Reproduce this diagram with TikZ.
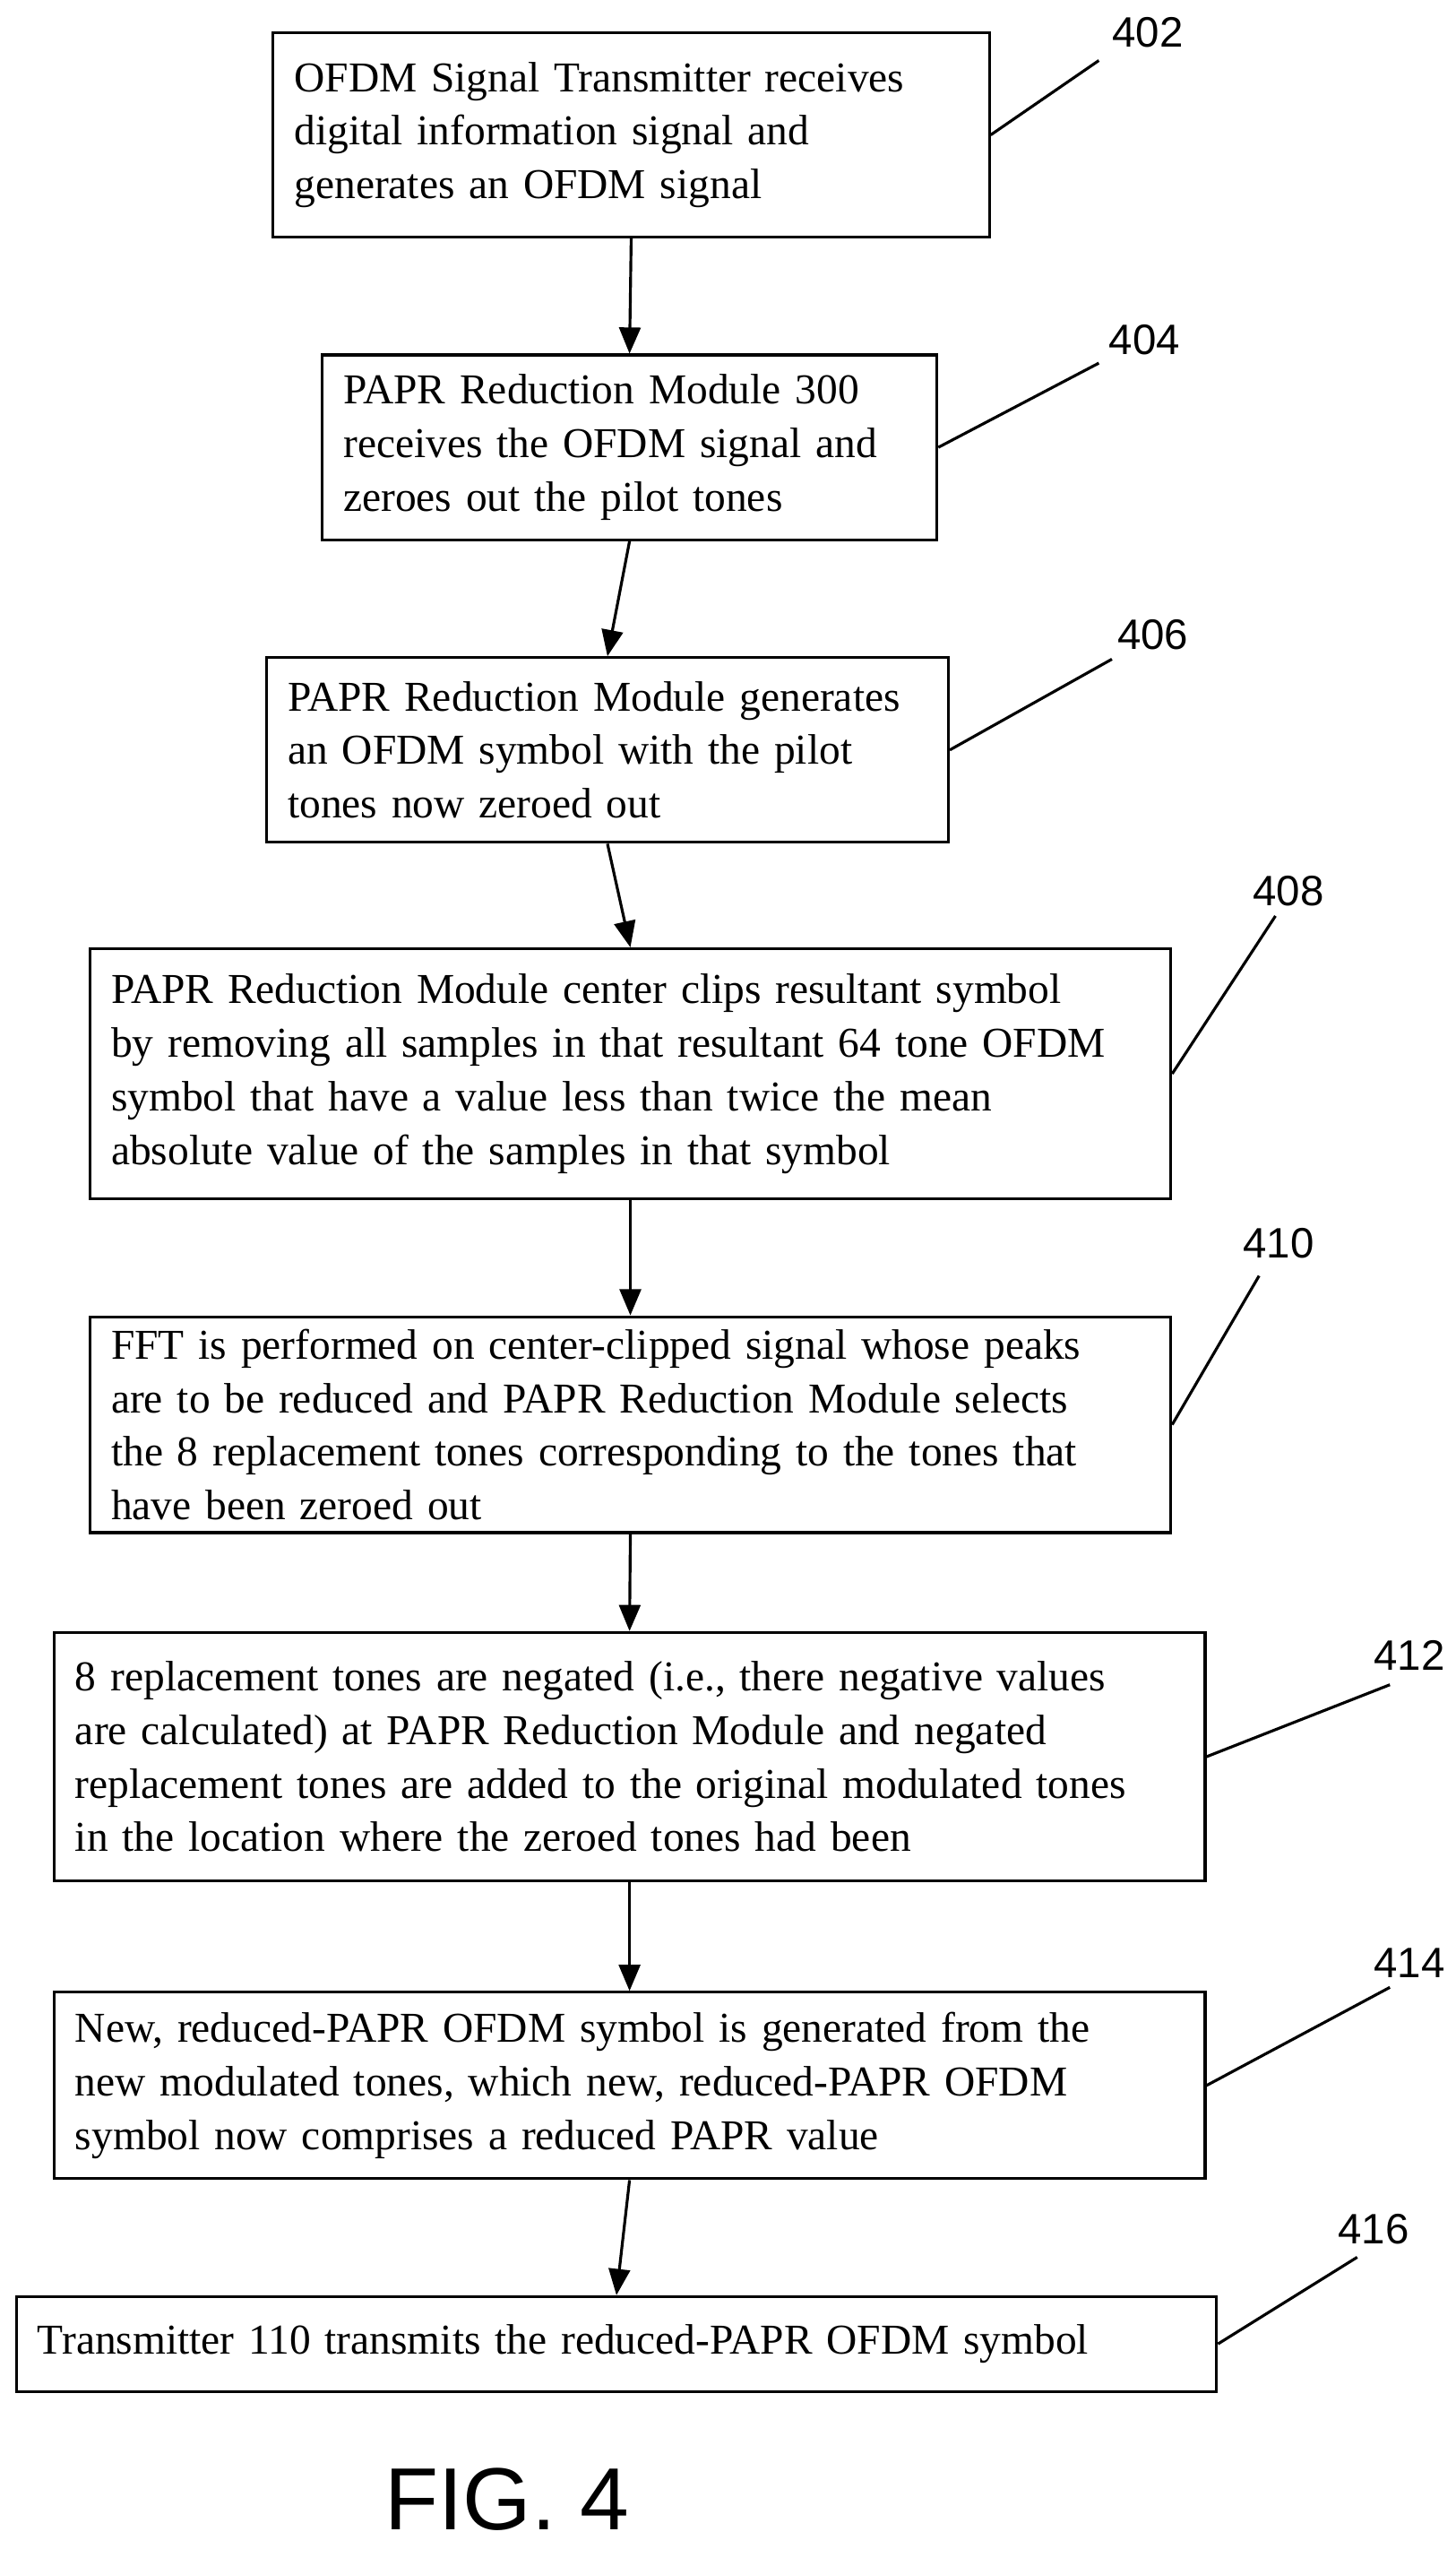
\documentclass[tikz,border=0pt]{standalone}
\usepackage{fontspec}
\setmainfont{Liberation Serif}
\newfontfamily\labelfont{Liberation Sans}
\usetikzlibrary{arrows, positioning}
\tikzset{flowstep/.style={draw, line width=0.9pt, align=left, inner sep=0pt, font=\fontsize{13.5}{17}\selectfont},
    ref/.style={font=\labelfont\fontsize{13.5}{16}\selectfont},
    lead/.style={line width=0.9pt}
}
\newcommand{\stepbox}[6]{% name, x1, y1, x2, y2, text
    \node[flowstep, minimum width={(#4-#2)*0.01825cm}, minimum height={(#5-#3)*0.01825cm},
        text width={(#4-#2-26)*0.01825cm}] (#1) at ({(#2+#4)/2}, {(#3+#5)/2}) {#6};
}
\begin{document}
\begin{tikzpicture}[x=0.01825cm, y=-0.01825cm, >=triangle 45]
        \useasboundingbox (0, 0) rectangle (889.9, 1558.4);
        \stepbox{s402}{167}{20}{605}{145}{OFDM Signal Transmitter receives\\digital information signal and\\generates an OFDM signal}
        \stepbox{s404}{197}{217}{573}{330}{PAPR Reduction Module 300\\receives the OFDM signal and\\zeroes out the pilot tones}
        \stepbox{s406}{163}{402}{580}{515}{PAPR Reduction Module generates\\an OFDM symbol with the pilot\\tones now zeroed out}
        \stepbox{s408}{55}{580}{716}{733}{PAPR Reduction Module center clips resultant symbol\\by removing all samples in that resultant 64 tone OFDM\\symbol that have a value less than twice the mean\\absolute value of the samples in that symbol}
        \stepbox{s410}{55}{805}{716}{937}{FFT is performed on center-clipped signal whose peaks\\are to be reduced and PAPR Reduction Module selects\\the 8 replacement tones corresponding to the tones that\\have been zeroed out}
        \stepbox{s412}{33}{998}{737}{1150}{8 replacement tones are negated (i.e., there negative values\\are calculated) at PAPR Reduction Module and negated\\replacement tones are added to the original modulated tones\\in the location where the zeroed tones had been}
        \stepbox{s414}{33}{1218}{737}{1332}{New, reduced-PAPR OFDM symbol is generated from the\\new modulated tones, which new, reduced-PAPR OFDM\\symbol now comprises a reduced PAPR value}
        \stepbox{s416}{10}{1404}{744}{1462}{Transmitter 110 transmits the reduced-PAPR OFDM symbol}

        % flow
        \foreach \a/\b in {s402/s404, s404/s406, s406/s408, s408/s410, s410/s412, s412/s414, s414/s416}
            \draw[->, lead] (\a.south) -- (\b.north);

        % reference numerals
        \node[ref] (n402) at (702, 20) {402};
        \node[ref] (n404) at (700, 208) {404};
        \node[ref] (n406) at (705, 388) {406};
        \node[ref] (n408) at (788, 545) {408};
        \node[ref] (n410) at (782, 760) {410};
        \node[ref] (n412) at (862, 1012) {412};
        \node[ref] (n414) at (862, 1200) {414};
        \node[ref] (n416) at (840, 1363) {416};
        \coordinate (c402) at (672, 37);
        \coordinate (c404) at (672, 222);
        \coordinate (c406) at (680, 403);
        \coordinate (c408) at (780, 560);
        \coordinate (c410) at (770, 780);
        \coordinate (c412) at (850, 1030);
        \coordinate (c414) at (850, 1215);
        \coordinate (c416) at (830, 1380);
        \foreach \n in {402, 404, 406, 408, 410, 412, 414, 416}
            \draw[lead] (s\n.east) -- (c\n);

        \node[font=\labelfont\fontsize{28}{32}\selectfont] (fig) at (310, 1528) {FIG. 4};
\end{tikzpicture}
\end{document}
